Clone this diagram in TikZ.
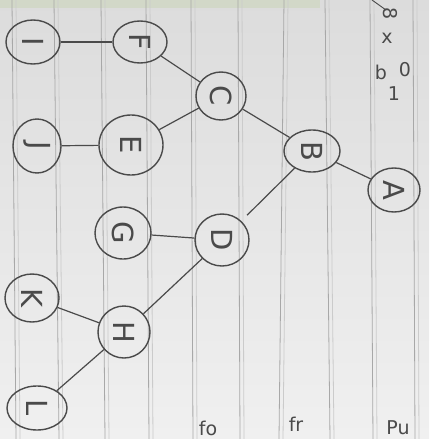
\documentclass[tikz,border=0pt]{standalone}
\usepackage{fontspec}
\setmainfont{DejaVu Sans}
\usetikzlibrary{shapes.geometric}
\definecolor{paperA}{HTML}{DCDCDC}
\definecolor{paperB}{HTML}{F0F0F0}
\definecolor{rule}{HTML}{A8A8A8}
\definecolor{ink}{HTML}{4A4A4A}
\definecolor{strip}{HTML}{D2D8C8}
\tikzset{
  nd/.style={ellipse, draw=ink, line width=1.4pt, inner sep=0pt, font=\fontsize{29}{29}\selectfont\color{ink}},
  edge/.style={draw=ink, line width=1.2pt},
  ruling/.style={draw=rule, line width=0.8pt},
  note/.style={font=\fontsize{19}{19}\selectfont\color{ink}, inner sep=0pt}
}
\newcommand{\rl}[1]{\rotatebox{-90}{#1}}
\begin{document}
\begin{tikzpicture}[x=1pt,y=-1pt]
\useasboundingbox (0,0) rectangle (429,439);
\clip (0,0) rectangle (429,439);
\shade[top color=paperA, bottom color=paperB] (0,0) rectangle (429,439);
\fill[strip] (0,0) rectangle (320,8);
% ruled lines (pairs)
\foreach \t/\b in {12/16, 54/59, 101/105, 146/149, 191/193, 238/240, 284/279, 325/330, 370/373, 413/415}{
  \draw[ruling] (\t,0) -- (\b,439);
  \draw[ruling, draw=rule!60] (\t+4,0) -- (\b+4,439);
}
% nodes
\node[nd, minimum width=54pt, minimum height=44pt] (I) at (33,42) {\rl{I}};
\node[nd, minimum width=54pt, minimum height=42pt] (F) at (140,42) {\rl{F}};
\node[nd, minimum width=50pt, minimum height=48pt] (C) at (221,96) {\rl{C}};
\node[nd, minimum width=56pt, minimum height=42pt] (B) at (312,151) {\rl{B}};
\node[nd, minimum width=52pt, minimum height=44pt] (A) at (394,190) {\rl{A}};
\node[nd, minimum width=48pt, minimum height=54pt] (J) at (37,146) {\rl{J}};
\node[nd, minimum width=64pt, minimum height=60pt] (E) at (131,145) {\rl{E}};
\node[nd, minimum width=56pt, minimum height=52pt] (G) at (123,233) {\rl{G}};
\node[nd, minimum width=54pt, minimum height=52pt] (D) at (222,240) {\rl{D}};
\node[nd, minimum width=54pt, minimum height=48pt] (K) at (32,298) {\rl{K}};
\node[nd, minimum width=52pt, minimum height=52pt] (H) at (124,332) {\rl{H}};
\node[nd, minimum width=60pt, minimum height=44pt] (L) at (37,408) {\rl{L}};
% edges
\draw[edge] (I) -- (F);
\draw[edge] (F) -- (C);
\draw[edge] (E) -- (C);
\draw[edge] (J) -- (E);
\draw[edge] (C) -- (B);
\draw[edge] (B) -- (A);
\draw[edge, shorten <=8pt] (D) -- (B);
\draw[edge] (G) -- (D);
\draw[edge] (H) -- (D);
\draw[edge] (K) -- (H);
\draw[edge] (L) -- (H);
% notes
\coordinate (s1) at (372,0); \coordinate (s2) at (386,10);
\draw[edge, line width=0.9pt] (s1) -- (s2);
\node[note] (n1) at (390,14) {\rl{8}};
\node[note] (n2) at (387,38) {x};
\node[note] (n3) at (405,70) {0};
\node[note] (n4) at (381,72) {b};
\node[note] (n5) at (394,94) {1};
\node[note] (n6) at (208,428) {fo};
\node[note] (n7) at (296,424) {fr};
\node[note] (n8) at (398,428) {Pu};
\end{tikzpicture}
\end{document}
